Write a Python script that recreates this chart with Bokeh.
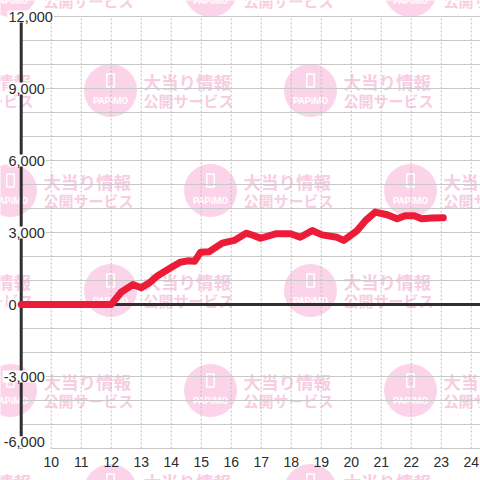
from bokeh.plotting import figure
from bokeh.models import Range1d, ColumnDataSource
from bokeh.core.properties import value
from bokeh.embed import file_html
from bokeh.resources import INLINE

# ---------------- data ----------------
hours = [9, 12, 12.33, 12.72, 13.0, 13.3, 13.55, 13.97, 14.3, 14.55, 14.78, 14.98, 15.27,
         15.7, 16.1, 16.5, 16.75, 16.98, 17.48, 17.98, 18.3, 18.7, 19.03, 19.53, 19.75,
         20.2, 20.48, 20.8, 21.2, 21.53, 21.8, 22.1, 22.35, 22.7, 23.07]
values = [0, 0, 510, 830, 700, 930, 1200, 1520, 1760, 1820, 1800, 2180, 2200,
          2560, 2670, 2970, 2875, 2760, 2945, 2945, 2800, 3080, 2900, 2800, 2670,
          3080, 3500, 3850, 3740, 3570, 3700, 3700, 3570, 3600, 3610]

x_ticks = list(range(10, 25))
x_tick_labels = [str(t) for t in x_ticks]
y_ticks = [-6000, -3000, 0, 3000, 6000, 9000, 12000]
y_tick_labels = ["-6,000", "-3,000", "0", "3,000", "6,000", "9,000", "12,000"]
y_grid = list(range(-6000, 12001, 1000))

wm_line1 = "大当り情報"
wm_line2 = "公開サービス"
wm_logo = "PAPiMO"

# ---------------- layout helpers ----------------
W = H = 480
PX_H = 30.0                   # px per hour
PX_K = 24.0 / 1000.0          # px per unit
x0 = 9 - 20.7 / PX_H
x1 = x0 + W / PX_H
y_top = 304 / PX_K
y_bot = y_top - H / PX_K

def to_data(rx, ry):
    return x0 + rx / PX_H, y_top - ry / PX_K

def visible(l, t, r, b):
    return r > 0 and l < W and b > 0 and t < H

p = figure(width=W, height=H, x_range=Range1d(x0, x1), y_range=Range1d(y_bot, y_top),
           output_backend="svg", toolbar_location=None, min_border=0,
           x_axis_location=None, y_axis_location=None)
p.outline_line_color = None
p.background_fill_color = "white"
p.border_fill_color = "white"
p.xgrid.visible = False
p.ygrid.visible = False

# ---------------- watermark ----------------
cx, cy, ix, iy = [], [], [], []
lx, ly, ax, ay, bx, by = [], [], [], [], [], []
for n in range(0, 6):
    for m in range(-1, 6):
        if (m + n) % 2:
            continue
        rx, ry = 10 + 100 * m, -10 + 100 * n
        if visible(rx - 27, ry - 27, rx + 27, ry + 27):
            a, b = to_data(rx, ry)
            cx.append(a); cy.append(b)
        if visible(rx - 4, ry - 17, rx + 4, ry - 3):
            a, b = to_data(rx, ry - 10)
            ix.append(a); iy.append(b)
        if visible(rx - 19, ry + 5, rx + 19, ry + 15):
            a, b = to_data(rx, ry + 10)
            lx.append(a); ly.append(b)
        if visible(rx + 33, ry - 17.5, rx + 122, ry - 1.5):
            a, b = to_data(rx + 33, ry - 9.5)
            ax.append(a); ay.append(b)
        if visible(rx + 33, ry + 2, rx + 123, ry + 17):
            a, b = to_data(rx + 33, ry + 9.5)
            bx.append(a); by.append(b)

pink_c = "#fbd4e9"
pink_t = "#f7cde2"
p.scatter(cx, cy, size=53, fill_color=pink_c, line_color=None)
p.rect(ix, iy, width=7.5, height=13, width_units="screen", height_units="screen",
       fill_color=None, line_color="white", line_width=1.5)
p.text(lx, ly, text=[wm_logo] * len(lx), text_font=value("Roboto"), text_font_style="bold",
       text_font_size="9.5px", text_color="white", text_align="center", text_baseline="middle")
p.text(ax, ay, text=[wm_line1] * len(ax), text_font=value("Noto Sans CJK JP"),
       text_font_style="bold", text_font_size="17.5px", text_color=pink_t,
       text_align="left", text_baseline="middle")
p.text(bx, by, text=[wm_line2] * len(bx), text_font=value("Noto Sans CJK JP"),
       text_font_style="bold", text_font_size="15px", text_color=pink_t,
       text_align="left", text_baseline="middle")

# ---------------- grid ----------------
gx0 = [10 if (g in (y_ticks[0], y_ticks[-1])) else 9 for g in y_grid]
p.segment(x0=gx0, y0=y_grid, x1=[x1] * len(y_grid), y1=y_grid,
          line_color="#c8c8c8", line_width=1)
p.segment(x0=x_ticks, y0=[y_ticks[0]] * len(x_ticks), x1=x_ticks, y1=[y_ticks[-1]] * len(x_ticks),
          line_color="#bdbdbd", line_width=1, line_dash="2 2")

# axis line and zero line
p.segment(x0=[9], y0=[y_ticks[0]], x1=[9], y1=[y_ticks[-1]], line_color="#2f2f2f", line_width=3)
p.segment(x0=[9], y0=[0], x1=[x1], y1=[0], line_color="#2f2f2f", line_width=3)

# y labels
x_off = [-18.5 if s.startswith("-") else -13.7 for s in y_tick_labels]
y_off = [-6.3 if t == y_ticks[0] else 0 for t in y_ticks]
src_y = ColumnDataSource(dict(x=[9] * len(y_ticks), y=y_ticks, t=y_tick_labels, xo=x_off, yo=y_off))
p.text(x="x", y="y", text="t", x_offset="xo", y_offset="yo", source=src_y,
       text_font=value("Liberation Sans"), text_font_size="14.5px", text_color="#2b2b2b",
       text_align="left", text_baseline="middle",
       background_fill_color="white", padding=1)

# x labels
p.text(x=x_ticks, y=[y_ticks[0]] * len(x_ticks), text=x_tick_labels, y_offset=13.5,
       text_font=value("Liberation Sans"), text_font_size="14px", text_color="#2b2b2b",
       text_align="center", text_baseline="middle")

# ---------------- series ----------------
p.line(hours, values, line_color="#ec1c38", line_width=7, line_join="round", line_cap="round")

open("out.html", "w").write(file_html(p, INLINE))
